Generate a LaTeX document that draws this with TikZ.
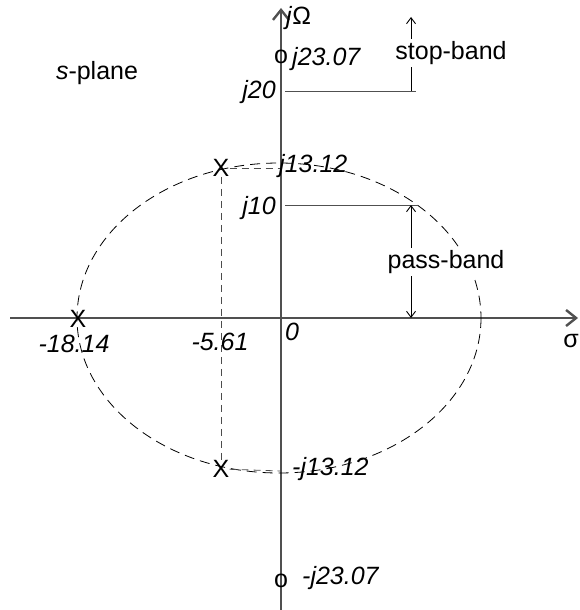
\documentclass[tikz,border=0pt]{standalone}
\usepackage{fontspec}
\setmainfont{Liberation Sans}
\usetikzlibrary{arrows.meta}
\definecolor{axisgray}{HTML}{505050}
\tikzset{
  lbl/.style={inner sep=0pt, font=\fontsize{25}{28}\selectfont\itshape},
  plain/.style={inner sep=0pt, font=\fontsize{25}{28}\selectfont},
  glyph/.style={inner sep=0pt, font=\fontsize{25}{28}\selectfont},
  axisline/.style={draw=axisgray, line width=1.1pt},
  thinline/.style={draw=axisgray, line width=1pt},
  ellipseline/.style={draw=black, line width=0.8pt, dash pattern=on 10pt off 6pt},
  guide/.style={draw=black!70, line width=0.8pt, dash pattern=on 7pt off 5pt},
  bandarrow/.style={draw=black, line width=0.9pt},
}
\begin{document}
\begin{tikzpicture}[x=1pt,y=-1pt]
\useasboundingbox (0,0) rectangle (579,610);
% axes
\coordinate (xl) at (10,318);
\coordinate (xr) at (578,318);
\coordinate (yb) at (281,610);
\coordinate (yt) at (281,8);
\draw[axisline,-{Straight Barb[length=10pt,width=16pt,line width=2.4pt]}] (xl) -- (xr);
\draw[axisline,-{Straight Barb[length=10pt,width=16pt,line width=2.4pt]}] (yb) -- (yt);
% ellipse
\draw[ellipseline] (279,318) ellipse [x radius=202, y radius=155];
% poles
\node[glyph] (p1) at (78,319) {X};
\node[glyph] (p2) at (221,168) {X};
\node[glyph] (p3) at (221,469) {X};
% zeros
\node[glyph] (z1) at (281,57) {o};
\node[glyph] (z2) at (281,581) {o};
% guide dashes
\coordinate (a1) at (281,168);
\coordinate (a2) at (281,471);
\draw[guide] (p2) -- (a1);
\draw[guide] (p3) -- (a2);
\draw[guide] (p2) -- (p3);
% labels
\node[plain,anchor=west] (jO) at (286,18) {\textit{j}Ω};
\node[plain] (sp) at (97,73) {\textit{s}-plane};
\node[lbl,anchor=west] (l1) at (292,59) {j23.07};
\node[lbl,anchor=east] (l2) at (276,92) {j20};
\node[lbl,anchor=west] (l3) at (279,166) {j13.12};
\node[lbl,anchor=east] (l4) at (276,208) {j10};
\node[lbl,anchor=west] (l5) at (292,469) {-j13.12};
\node[lbl,anchor=west] (l6) at (302,578) {-j23.07};
\node[lbl] (l7) at (74,344) {-18.14};
\node[lbl] (l8) at (220,342) {-5.61};
\node[lbl] (l9) at (292,332) {0};
\node[plain] (sig) at (571,341) {σ};
% band lines
\coordinate (s0) at (285,91);
\coordinate (s1) at (416,91);
\coordinate (s2) at (411,91);
\coordinate (s3) at (411,17);
\coordinate (p0) at (285,205);
\coordinate (pe) at (418,205);
\coordinate (q1) at (411,205);
\coordinate (q2) at (411,318);
\draw[thinline] (s0) -- (s1);
\draw[thinline] (p0) -- (pe);
\draw[bandarrow,-{Straight Barb[length=6pt,width=9pt]}] (s2) -- (s3);
\draw[bandarrow,{Straight Barb[length=6pt,width=9pt]}-{Straight Barb[length=6pt,width=9pt]}] (q1) -- (q2);
\node[plain,fill=white,inner sep=2pt] (sb) at (451,53) {stop-band};
\node[plain,fill=white,inner sep=2pt] (pb) at (446,262) {pass-band};
\end{tikzpicture}
\end{document}
